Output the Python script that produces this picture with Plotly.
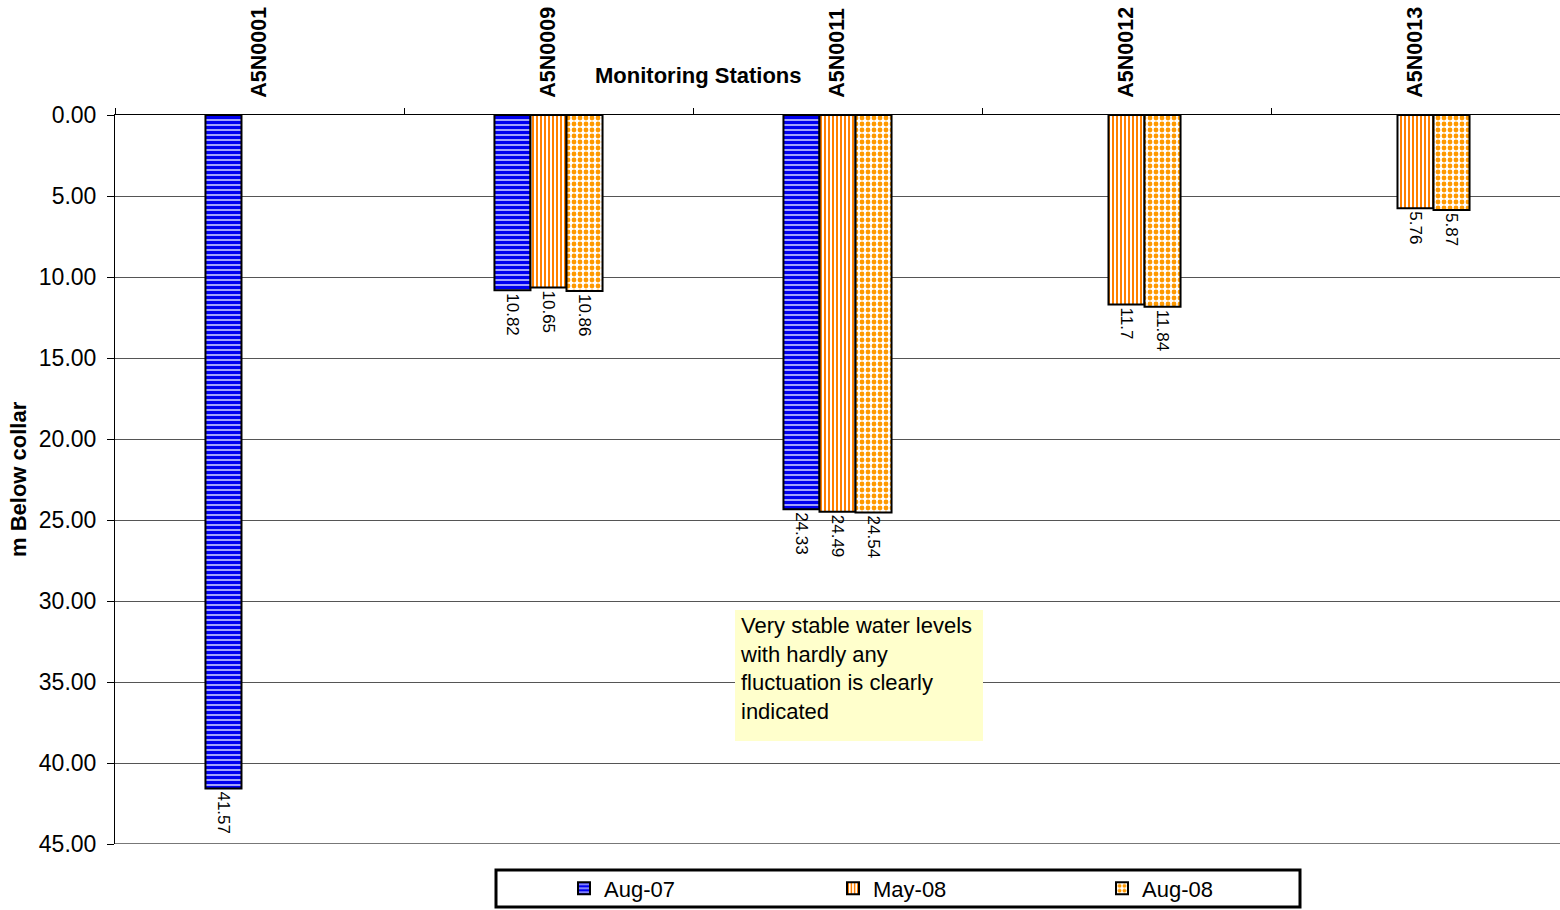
import plotly.graph_objects as go

# Depth to water (m below collar) at each monitoring station
stations = ["A5N0001", "A5N0009", "A5N0011", "A5N0012", "A5N0013"]
aug07 = [41.57, 10.82, 24.33, None, None]
may08 = [None, 10.65, 24.49, 11.7, 5.76]
aug08 = [None, 10.86, 24.54, 11.84, 5.87]
y_ticks = [0, 5, 10, 15, 20, 25, 30, 35, 40, 45]

W, H = 1560, 910
ML, MR, MT, MB = 115, 0, 115, 66
PW, PH = W - ML - MR, H - MT - MB


def px_x(px):
    return (px - ML) / PW


def px_y(py):
    return 1 - (py - MT) / PH


FONT = "Liberation Sans, Arial, sans-serif"


def labels(vals):
    return [("" if v is None else str(v)) for v in vals]


series = [
    ("Aug-07", aug07, dict(shape="-", fgcolor="#0000F0", bgcolor="#D8D8FF", size=5, solidity=0.7, fgopacity=1)),
    ("May-08", may08, dict(shape="|", fgcolor="#FF8000", bgcolor="#FFFFFF", size=4, solidity=0.5, fgopacity=1)),
    ("Aug-08", aug08, dict(shape=".", fgcolor="#FF9900", bgcolor="#FFFFFF", size=6, solidity=0.5, fgopacity=1)),
]

fig = go.Figure()
for name, vals, pat in series:
    fig.add_trace(go.Bar(
        name=name,
        x=stations,
        y=vals,
        text=labels(vals),
        textposition="outside",
        textangle=90,
        constraintext="none",
        textfont=dict(family=FONT, size=17, color="#000000"),
        cliponaxis=False,
        marker=dict(color="#FFFFFF", pattern=pat, line=dict(color="#000000", width=2)),
    ))

fig.update_layout(
    width=W, height=H, autosize=False,
    margin=dict(l=ML, r=MR, t=MT, b=MB),
    paper_bgcolor="#FFFFFF", plot_bgcolor="#FFFFFF",
    font=dict(family=FONT, color="#000000"),
    barmode="group", bargap=0.626, bargroupgap=0,
    showlegend=True,
    legend=dict(
        orientation="h",
        x=px_x(564), xanchor="left",
        y=px_y(888.5), yanchor="middle",
        bgcolor="rgba(0,0,0,0)",
        borderwidth=0,
        font=dict(family=FONT, size=22, color="#000000"),
        itemwidth=30,
        entrywidthmode="pixels",
        entrywidth=224,
        traceorder="normal",
    ),
    xaxis=dict(
        side="top",
        type="category",
        showline=True, linecolor="#000000", linewidth=1,
        ticks="outside", tickson="boundaries", ticklen=6, tickcolor="#000000",
        tickangle=-90,
        tickfont=dict(family=FONT, size=21.5, color="#000000", weight="bold"),
        ticklabelstandoff=12,
        showgrid=False,
    ),
    yaxis=dict(
        range=[45, 0],
        tickvals=y_ticks,
        tickformat=".2f",
        ticks="outside", ticklen=7, tickcolor="#000000",
        tickfont=dict(family=FONT, size=23, color="#000000"),
        ticklabelstandoff=6,
        showline=True, linecolor="#000000", linewidth=1,
        showgrid=True, gridcolor="#555555", gridwidth=1,
        zeroline=False,
    ),
)

# gridline at the bottom of the range
fig.add_shape(type="line", xref="paper", yref="y", x0=0, x1=1, y0=45, y1=45,
              line=dict(color="#777777", width=2), layer="below")

# legend frame
fig.add_shape(type="rect", xref="paper", yref="paper",
              x0=px_x(496), x1=px_x(1300), y0=px_y(907), y1=px_y(870),
              line=dict(color="#000000", width=3), fillcolor="rgba(0,0,0,0)")

# note box
fig.add_shape(type="rect", xref="paper", yref="paper",
              x0=px_x(735), x1=px_x(983), y0=px_y(741), y1=px_y(610),
              line=dict(width=0), fillcolor="#FFFFCC", layer="above")

fig.add_annotation(
    xref="paper", yref="paper",
    x=px_x(738), y=px_y(611), xanchor="left", yanchor="top",
    text="Very stable water levels<br>with hardly any<br>fluctuation is clearly<br>indicated",
    align="left", showarrow=False,
    font=dict(family=FONT, size=22, color="#000000"),
)

# axis titles
fig.add_annotation(
    xref="paper", yref="paper",
    x=px_x(698), y=px_y(76), xanchor="center", yanchor="middle",
    text="<b>Monitoring Stations</b>", showarrow=False,
    font=dict(family=FONT, size=22, color="#000000"),
)
fig.add_annotation(
    xref="paper", yref="paper",
    x=px_x(18), y=px_y(479), xanchor="center", yanchor="middle",
    text="<b>m Below collar</b>", textangle=-90, showarrow=False,
    font=dict(family=FONT, size=22, color="#000000"),
)

fig.write_html("out.html")
